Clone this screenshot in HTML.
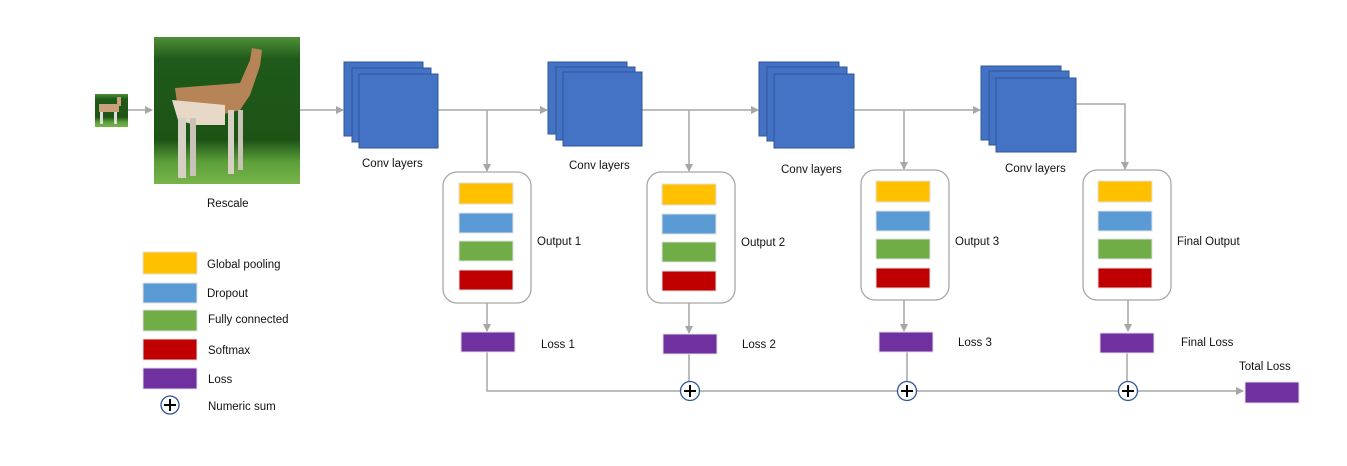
<!DOCTYPE html>
<html><head><meta charset="utf-8"><style>
html,body{margin:0;padding:0;background:#fff}
svg text{font-family:"Liberation Sans",sans-serif;font-size:11.5px;fill:#111}
</style></head><body>
<svg width="1347" height="461" viewBox="0 0 1347 461" xmlns="http://www.w3.org/2000/svg">
<defs>
<marker id="a" markerWidth="8" markerHeight="8" refX="7" refY="4" orient="auto" markerUnits="userSpaceOnUse"><path d="M0,0 L8,4 L0,8 z" fill="#a6a6a6"/></marker>
<linearGradient id="g" x1="0" y1="0" x2="0" y2="1"><stop offset="0" stop-color="#4f8f38"/><stop offset="0.15" stop-color="#1f5a1a"/><stop offset="0.7" stop-color="#1d5416"/><stop offset="0.85" stop-color="#5c9f3a"/><stop offset="1" stop-color="#78b449"/></linearGradient>
</defs>
<!-- small deer -->
<rect x="95" y="94" width="33" height="33" fill="url(#g)"/>
<rect x="99" y="104" width="20" height="8" fill="#c8a07a"/>
<rect x="100" y="112" width="3" height="12" fill="#ddd"/><rect x="114" y="112" width="3" height="12" fill="#ddd"/>
<rect x="117" y="97" width="4" height="9" fill="#c8a07a"/>
<!-- big deer -->
<rect x="154" y="37" width="146" height="147" fill="url(#g)"/>
<path d="M175 88 L240 83 L250 60 L252 48 L262 50 L260 66 L250 95 L240 110 L200 120 L178 110 Z" fill="#b78458"/>
<path d="M172 100 L225 105 L225 125 L195 125 L178 120 Z" fill="#e8d8c8"/>
<rect x="178" y="118" width="8" height="60" fill="#d7d0c4"/><rect x="190" y="118" width="6" height="58" fill="#c9c2b6"/>
<rect x="228" y="110" width="6" height="64" fill="#d7d0c4"/><rect x="238" y="110" width="5" height="60" fill="#c9c2b6"/>
<g stroke="#a6a6a6" stroke-width="1.5" fill="none">
<line x1="128" y1="110" x2="152" y2="110" marker-end="url(#a)"/>
<line x1="300" y1="110" x2="343" y2="110" marker-end="url(#a)"/>
<line x1="438" y1="110" x2="547" y2="110" marker-end="url(#a)"/>
<line x1="642" y1="110" x2="758" y2="110" marker-end="url(#a)"/>
<line x1="854" y1="110" x2="980" y2="110" marker-end="url(#a)"/>
<polyline points="1076,104 1125,104 1125,169" marker-end="url(#a)"/>
<line x1="487" y1="110" x2="487" y2="171" marker-end="url(#a)"/>
<line x1="689" y1="110" x2="689" y2="171" marker-end="url(#a)"/>
<line x1="904" y1="110" x2="904" y2="169" marker-end="url(#a)"/>
<line x1="487" y1="303" x2="487" y2="331" marker-end="url(#a)"/>
<line x1="689" y1="303" x2="689" y2="333" marker-end="url(#a)"/>
<line x1="904" y1="300" x2="904" y2="331" marker-end="url(#a)"/>
<line x1="1128" y1="300" x2="1128" y2="331" marker-end="url(#a)"/>
<polyline points="487,352 487,391 1243,391" marker-end="url(#a)"/>
<line x1="689" y1="354" x2="689" y2="391"/>
<line x1="907" y1="352" x2="907" y2="391"/>
<line x1="1127" y1="353" x2="1127" y2="391"/>
</g>
<!-- conv stacks -->
<g fill="#4472c4" stroke="#2f5597" stroke-width="1">
<rect x="344" y="62" width="79" height="74"/><rect x="352" y="68" width="79" height="74"/><rect x="359" y="74" width="79" height="74"/>
<rect x="548" y="62" width="79" height="72"/><rect x="556" y="67" width="79" height="73"/><rect x="563" y="72" width="79" height="74"/>
<rect x="759" y="62" width="80" height="74"/><rect x="767" y="67" width="80" height="74"/><rect x="774" y="74" width="80" height="74"/>
<rect x="981" y="66" width="80" height="74"/><rect x="989" y="71" width="80" height="74"/><rect x="996" y="78" width="80" height="74"/>
</g>
<text x="362" y="167">Conv layers</text>
<text x="569" y="169">Conv  layers</text>
<text x="781" y="173">Conv  layers</text>
<text x="1005" y="172">Conv  layers</text>
<text x="207" y="207">Rescale</text>
<!-- output boxes -->
<g fill="#fff" stroke="#a6a6a6" stroke-width="1.3">
<rect x="443" y="172" width="88" height="131" rx="14"/>
<rect x="647" y="172" width="88" height="131" rx="14"/>
<rect x="861" y="170" width="88" height="130" rx="14"/>
<rect x="1083" y="170" width="88" height="130" rx="14"/>
</g>
<g stroke="#e0e0e0" stroke-width="1">
<g transform="translate(459,0)"><rect y="183" width="54" height="21" fill="#ffc000"/><rect y="213" width="54" height="20" fill="#5b9bd5"/><rect y="241" width="54" height="20" fill="#70ad47"/><rect y="270" width="54" height="20" fill="#c00000"/><rect x="2" y="332" width="54" height="20" fill="#7030a0"/></g>
<g transform="translate(662,0)"><rect y="184" width="54" height="21" fill="#ffc000"/><rect y="214" width="54" height="20" fill="#5b9bd5"/><rect y="242" width="54" height="20" fill="#70ad47"/><rect y="271" width="54" height="20" fill="#c00000"/><rect x="1" y="334" width="54" height="20" fill="#7030a0"/></g>
<g transform="translate(876,0)"><rect y="181" width="54" height="21" fill="#ffc000"/><rect y="211" width="54" height="20" fill="#5b9bd5"/><rect y="239" width="54" height="20" fill="#70ad47"/><rect y="268" width="54" height="20" fill="#c00000"/><rect x="3" y="332" width="54" height="20" fill="#7030a0"/></g>
<g transform="translate(1098,0)"><rect y="181" width="54" height="21" fill="#ffc000"/><rect y="211" width="54" height="20" fill="#5b9bd5"/><rect y="239" width="54" height="20" fill="#70ad47"/><rect y="268" width="54" height="20" fill="#c00000"/><rect x="2" y="333" width="54" height="20" fill="#7030a0"/></g>
<rect x="1245" y="382" width="54" height="21" fill="#7030a0"/>
<rect x="143" y="252" width="54" height="22" fill="#ffc000"/>
<rect x="143" y="283" width="54" height="20" fill="#5b9bd5"/>
<rect x="143" y="310" width="54" height="21" fill="#70ad47"/>
<rect x="143" y="339" width="54" height="21" fill="#c00000"/>
<rect x="143" y="368" width="54" height="21" fill="#7030a0"/>
</g>
<text x="537" y="245">Output 1</text>
<text x="741" y="246">Output 2</text>
<text x="955" y="245">Output 3</text>
<text x="1177" y="245">Final Output</text>
<text x="541" y="348">Loss 1</text>
<text x="742" y="348">Loss 2</text>
<text x="958" y="346">Loss 3</text>
<text x="1181" y="346">Final Loss</text>
<text x="1239" y="370">Total  Loss</text>
<!-- plus circles -->
<g fill="#fff" stroke="#2f5597" stroke-width="1.3">
<circle cx="690" cy="391" r="9.5"/><circle cx="907" cy="391" r="9.5"/><circle cx="1128" cy="391" r="9.5"/><circle cx="170" cy="405" r="9"/>
</g>
<g stroke="#000" stroke-width="2">
<path d="M684 391h12M690 385v12"/><path d="M901 391h12M907 385v12"/><path d="M1122 391h12M1128 385v12"/><path d="M164 405h12M170 399v12"/>
</g>
<g style="font-size:14px">
<text x="207" y="268">Global pooling</text>
<text x="207" y="297">Dropout</text>
<text x="208" y="323">Fully connected</text>
<text x="208" y="354">Softmax</text>
<text x="208" y="383">Loss</text>
<text x="208" y="410">Numeric sum</text>
</g>
</svg>
</body></html>
